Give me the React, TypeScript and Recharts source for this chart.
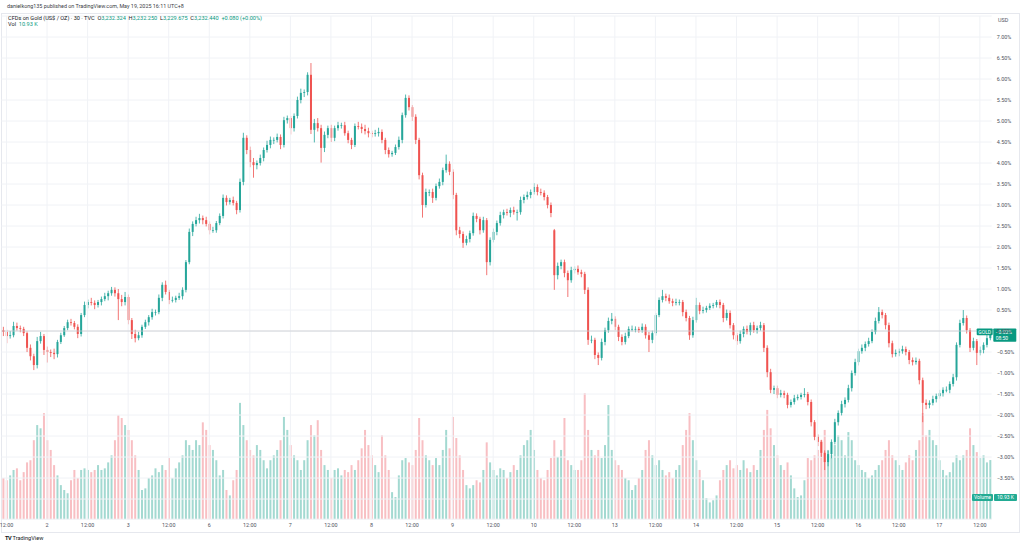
import React from "react";
import { Bar, CartesianGrid, Cell, ComposedChart, ReferenceLine, XAxis, YAxis } from "recharts";

// close %, upper wick, lower wick, volume (K), optional session open after a gap
type Candle = [number, number, number, number, number?];

interface Row {
  i: number;
  open: number;
  close: number;
  range: [number, number];
  vol: number;
  label: string;
}

const UP = "#26a69a";
const DOWN = "#ef5350";
const UP_VOL = "#a3d9d1";
const DOWN_VOL = "#f8bfc3";
const FONT = "Roboto, 'Liberation Sans', Arial, sans-serif";

const firstOpen = 0.02;

const may01: Candle[] = [
  [-0.02, 0.08, 0.1, 7.6], [-0.12, 0.05, 0.17, 7.2], [-0.1, 0.1, 0.06, 8.1], [0.12, 0.1, 0.05, 9.1],
  [0.07, 0.08, 0.06, 9.4], [0.05, 0.06, 0.08, 7.2], [-0.05, 0.05, 0.07, 8.7], [-0.4, 0.04, 0.1, 10.5],
  [-0.6, 0.08, 0.1, 10.9], [-0.81, 0.06, 0.12, 14.6], [-0.24, 0.1, 0.08, 17.4], [-0.12, 0.1, 0.06, 16.8],
  [-0.45, 0.05, 0.12, 19.6],
];

const may02: Candle[] = [
  [-0.5, 0.08, 0.25, 14.6], [-0.52, 0.06, 0.1, 12.8], [-0.55, 0.1, 0.12, 10.0], [-0.26, 0.05, 0.08, 8.1],
  [-0.1, 0.06, 0.05, 6.3], [0.07, 0.05, 0.04, 5.4], [0.21, 0.06, 0.05, 4.8], [0.19, 0.08, 0.06, 7.2],
  [0.1, 0.05, 0.06, 9.1], [-0.07, 0.06, 0.1, 7.6], [0.38, 0.05, 0.06, 9.1], [0.62, 0.08, 0.05, 9.4],
  [0.69, 0.06, 0.08, 9.1], [0.67, 0.1, 0.06, 8.7], [0.62, 0.06, 0.1, 9.1], [0.69, 0.05, 0.06, 10.0],
  [0.76, 0.06, 0.08, 9.1], [0.83, 0.08, 0.05, 9.4], [0.9, 0.06, 0.1, 10.5], [0.98, 0.07, 0.06, 11.8],
  [0.9, 0.06, 0.08, 14.6], [0.76, 0.1, 0.5, 19.2], [0.69, 0.1, 0.1, 18.7], [0.81, 0.12, 0.08, 17.4],
];

const may03: Candle[] = [
  [0.26, 0.06, 0.1, 16.5], [-0.07, 0.05, 0.12, 14.6], [-0.17, 0.1, 0.1, 11.8], [-0.1, 0.08, 0.05, 9.1],
  [0.1, 0.05, 0.06, 5.4], [0.21, 0.06, 0.05, 5.7], [0.33, 0.05, 0.08, 7.6], [0.45, 0.08, 0.06, 8.1],
  [0.45, 0.06, 0.08, 9.4], [0.79, 0.08, 0.05, 8.7], [1.1, 0.06, 0.08, 10.0], [0.93, 0.1, 0.06, 9.1],
  [0.74, 0.05, 0.1, 11.3], [0.74, 0.08, 0.06, 7.6], [0.79, 0.05, 0.06, 9.4], [0.83, 0.08, 0.05, 10.5],
  [0.98, 0.06, 0.08, 11.8], [1.64, 0.05, 0.06, 14.6], [2.36, 0.08, 0.05, 13.7], [2.55, 0.06, 0.1, 12.8],
  [2.64, 0.08, 0.06, 14.6], [2.69, 0.1, 0.08, 13.7], [2.64, 0.06, 0.1, 17.9], [2.55, 0.08, 0.06, 16.5],
];

const may06: Candle[] = [
  [2.4, 0.06, 0.1, 13.7], [2.4, 0.08, 0.06, 12.8], [2.57, 0.05, 0.06, 10.9], [2.74, 0.06, 0.05, 8.1],
  [3.17, 0.08, 0.06, 9.1], [3.07, 0.06, 0.08, 5.4], [3.12, 0.05, 0.06, 4.4], [3.05, 0.08, 0.06, 7.2],
  [2.88, 0.05, 0.1, 9.1], [3.55, 0.08, 0.06, 21.5], [4.6, 0.12, 0.08, 17.4], [4.31, 0.06, 0.1, 14.6],
  [4.02, 0.08, 0.12, 12.8], [3.95, 0.1, 0.3, 11.8], [4.0, 0.06, 0.1, 13.7], [4.12, 0.08, 0.06, 12.8],
  [4.31, 0.06, 0.08, 10.9], [4.43, 0.1, 0.06, 9.4], [4.55, 0.08, 0.08, 10.9], [4.55, 0.06, 0.1, 11.8],
  [4.62, 0.08, 0.06, 12.8], [4.43, 0.06, 0.1, 14.6], [5.02, 0.08, 0.06, 18.9], [5.07, 0.06, 0.08, 16.5],
];

const may07: Candle[] = [
  [4.83, 0.05, 0.15, 13.7], [5.12, 0.06, 0.08, 11.8], [5.5, 0.08, 0.06, 10.9], [5.67, 0.1, 0.08, 9.1],
  [5.69, 0.06, 0.1, 10.9], [6.1, 0.06, 0.08, 14.6], [4.79, 0.28, 0.1, 17.4], [4.95, 0.1, 0.3, 15.5],
  [4.83, 0.12, 0.08, 18.3], [4.36, 0.08, 0.35, 12.8], [4.67, 0.08, 0.1, 10.0], [4.83, 0.06, 0.08, 9.1],
  [4.6, 0.08, 0.1, 7.6], [4.83, 0.06, 0.08, 9.1], [4.9, 0.08, 0.06, 9.4], [4.9, 0.06, 0.08, 8.1],
  [4.71, 0.08, 0.06, 9.1], [4.55, 0.06, 0.08, 8.7], [4.43, 0.05, 0.1, 10.0], [4.88, 0.06, 0.05, 9.1],
  [4.86, 0.1, 0.06, 10.9], [4.81, 0.08, 0.1, 13.1], [4.76, 0.1, 0.08, 16.5], [4.71, 0.08, 0.1, 13.7],
];

const may08: Candle[] = [
  [4.69, 0.06, 0.08, 11.8], [4.71, 0.08, 0.06, 10.0], [4.74, 0.1, 0.08, 8.7], [4.55, 0.06, 0.08, 15.5],
  [4.31, 0.05, 0.1, 11.8], [4.21, 0.06, 0.08, 9.1], [4.24, 0.05, 0.06, 5.0], [4.38, 0.06, 0.05, 4.1],
  [4.55, 0.08, 0.06, 8.1], [5.14, 0.06, 0.08, 10.9], [5.55, 0.08, 0.06, 11.3], [5.33, 0.06, 0.08, 10.5],
  [5.1, 0.05, 0.1, 10.0], [4.55, 0.06, 0.1, 12.8], [3.71, 0.05, 0.1, 18.7], [3.0, 0.06, 0.3, 14.6],
  [3.31, 0.08, 0.06, 11.8], [3.31, 0.06, 0.1, 10.9], [3.17, 0.08, 0.12, 10.0], [3.45, 0.06, 0.06, 11.3],
  [3.55, 0.08, 0.06, 10.0], [3.83, 0.06, 0.08, 12.8], [3.98, 0.22, 0.06, 16.5], [3.79, 0.06, 0.08, 13.1],
];

const may09: Candle[] = [
  [3.24, 0.06, 0.1, 18.9], [2.4, 0.05, 0.12, 15.0], [2.31, 0.08, 0.1, 11.8], [2.1, 0.06, 0.12, 9.1],
  [2.19, 0.08, 0.06, 6.3], [2.33, 0.06, 0.08, 5.7], [2.74, 0.08, 0.06, 6.3], [2.67, 0.06, 0.08, 7.2],
  [2.4, 0.05, 0.1, 6.8], [2.64, 0.08, 0.06, 9.1], [1.64, 0.05, 0.31, 14.2], [2.17, 0.06, 0.08, 10.5],
  [2.36, 0.08, 0.06, 9.1], [2.57, 0.06, 0.08, 8.1], [2.76, 0.08, 0.06, 9.4], [2.83, 0.06, 0.08, 9.1],
  [2.81, 0.08, 0.06, 7.6], [2.88, 0.06, 0.1, 8.7], [2.83, 0.08, 0.06, 10.0], [2.83, 0.06, 0.2, 9.1],
  [3.12, 0.08, 0.06, 11.8], [3.19, 0.06, 0.08, 13.7], [3.24, 0.08, 0.06, 14.6], [3.31, 0.06, 0.08, 16.5],
];

const may10: Candle[] = [
  [3.43, 0.09, 0.06, 12.8], [3.31, 0.06, 0.08, 9.1], [3.29, 0.08, 0.06, 7.6], [3.19, 0.06, 0.08, 7.2],
  [3.0, 0.05, 0.08, 9.1], [2.81, 0.06, 0.1, 11.3], [1.33, 0.03, 0.35, 14.6, 2.4], [1.55, 0.08, 0.1, 11.5],
  [1.64, 0.06, 0.08, 12.8], [1.38, 0.06, 0.1, 18.7], [1.21, 0.06, 0.4, 10.9], [1.45, 0.08, 0.06, 10.0],
  [1.48, 0.06, 0.08, 9.1], [1.4, 0.08, 0.06, 9.1], [1.36, 0.06, 0.08, 10.9], [0.98, 0.05, 0.1, 23.3],
  [-0.21, 0.06, 0.12, 16.5], [-0.21, 0.1, 0.08, 12.8], [-0.57, 0.05, 0.1, 11.8], [-0.64, 0.06, 0.17, 12.8],
  [-0.26, 0.08, 0.06, 11.3], [0.02, 0.06, 0.08, 13.7], [0.24, 0.08, 0.06, 21.1], [0.29, 0.14, 0.08, 12.8],
];

const may13: Candle[] = [
  [0.1, 0.06, 0.08, 10.9], [-0.14, 0.05, 0.1, 10.0], [-0.26, 0.06, 0.08, 9.1], [-0.12, 0.08, 0.06, 7.6],
  [0.05, 0.06, 0.05, 7.2], [0.05, 0.08, 0.06, 5.4], [0.05, 0.06, 0.08, 6.3], [0.02, 0.05, 0.06, 7.6],
  [0.1, 0.08, 0.06, 9.1], [-0.1, 0.06, 0.08, 12.8], [-0.21, 0.08, 0.29, 14.6], [-0.05, 0.06, 0.08, 11.8],
  [0.38, 0.05, 0.06, 10.0], [0.74, 0.06, 0.05, 10.9], [0.83, 0.15, 0.06, 9.1], [0.79, 0.06, 0.08, 8.1],
  [0.71, 0.08, 0.06, 8.7], [0.67, 0.06, 0.08, 7.6], [0.69, 0.08, 0.06, 9.1], [0.69, 0.06, 0.08, 10.0],
  [0.45, 0.05, 0.1, 13.7], [0.31, 0.06, 0.08, 16.5], [-0.1, 0.05, 0.11, 19.6], [0.26, 0.08, 0.06, 14.6],
];

const may14: Candle[] = [
  [0.62, 0.17, 0.06, 10.9], [0.48, 0.06, 0.08, 9.1], [0.5, 0.08, 0.06, 7.2], [0.55, 0.05, 0.06, 3.9],
  [0.6, 0.06, 0.05, 3.1], [0.62, 0.05, 0.06, 3.5], [0.69, 0.05, 0.06, 4.4], [0.62, 0.06, 0.08, 7.2],
  [0.31, 0.05, 0.1, 9.1], [0.43, 0.08, 0.06, 10.0], [0.14, 0.06, 0.08, 10.9], [-0.1, 0.05, 0.1, 9.4],
  [-0.24, 0.06, 0.09, 10.0], [-0.07, 0.08, 0.06, 9.1], [0.05, 0.06, 0.08, 10.9], [-0.02, 0.08, 0.06, 9.4],
  [0.14, 0.06, 0.08, 8.7], [0.02, 0.08, 0.06, 10.0], [0.07, 0.06, 0.08, 9.1], [0.14, 0.08, 0.06, 12.8],
  [-0.4, 0.05, 0.1, 16.5], [-0.98, 0.06, 0.12, 20.2], [-1.4, 0.08, 0.08, 16.8], [-1.36, 0.06, 0.1, 13.7],
];

const may15: Candle[] = [
  [-1.52, 0.06, 0.08, 11.8], [-1.48, 0.08, 0.06, 10.0], [-1.52, 0.06, 0.08, 9.1], [-1.76, 0.05, 0.08, 10.5],
  [-1.69, 0.06, 0.06, 8.1], [-1.6, 0.08, 0.06, 5.7], [-1.57, 0.06, 0.05, 4.1], [-1.52, 0.05, 0.06, 4.4],
  [-1.5, 0.14, 0.06, 7.2], [-1.69, 0.05, 0.08, 11.3], [-2.17, 0.06, 0.1, 10.9], [-2.52, 0.05, 0.08, 11.8],
  [-2.64, 0.06, 0.1, 12.8], [-2.9, 0.05, 0.1, 14.6], [-3.12, 0.06, 0.19, 16.5], [-2.93, 0.08, 0.1, 12.8],
  [-2.64, 0.06, 0.1, 11.8], [-2.17, 0.08, 0.06, 13.7], [-1.95, 0.06, 0.08, 15.5], [-1.74, 0.08, 0.06, 14.6],
  [-1.64, 0.06, 0.08, 11.8], [-1.36, 0.08, 0.06, 16.1], [-1.0, 0.06, 0.08, 14.6], [-0.74, 0.08, 0.06, 10.9],
];

const may16: Candle[] = [
  [-0.48, 0.06, 0.08, 10.0], [-0.4, 0.08, 0.06, 9.1], [-0.31, 0.06, 0.08, 8.7], [-0.24, 0.08, 0.06, 7.6],
  [-0.02, 0.06, 0.05, 8.1], [0.24, 0.08, 0.06, 9.1], [0.45, 0.12, 0.06, 10.0], [0.38, 0.06, 0.08, 10.9],
  [0.14, 0.05, 0.1, 12.8], [-0.29, 0.06, 0.1, 14.6], [-0.55, 0.06, 0.08, 11.8], [-0.52, 0.08, 0.06, 10.9],
  [-0.48, 0.06, 0.08, 10.0], [-0.43, 0.08, 0.06, 9.1], [-0.5, 0.06, 0.08, 10.5], [-0.69, 0.05, 0.1, 11.8],
  [-0.74, 0.06, 0.08, 10.9], [-0.71, 0.08, 0.06, 12.8], [-1.17, 0.05, 0.1, 14.6], [-1.71, 0.06, 0.46, 19.6],
  [-1.76, 0.08, 0.1, 15.5], [-1.71, 0.06, 0.08, 16.5], [-1.62, 0.08, 0.06, 14.6], [-1.55, 0.06, 0.08, 13.7],
];

const may17: Candle[] = [
  [-1.48, 0.08, 0.06, 10.9], [-1.4, 0.06, 0.08, 9.1], [-1.4, 0.08, 0.06, 8.1], [-1.26, 0.06, 0.08, 8.7],
  [-1.1, 0.08, 0.06, 10.5], [-0.33, 0.06, 0.08, 11.8], [0.19, 0.08, 0.06, 10.9], [0.31, 0.19, 0.06, 11.8],
  [0.02, 0.06, 0.08, 12.8], [-0.4, 0.05, 0.1, 16.8], [-0.24, 0.08, 0.06, 13.7], [-0.52, 0.05, 0.29, 12.4],
  [-0.45, 0.08, 0.06, 11.3], [-0.33, 0.06, 0.08, 11.8], [-0.17, 0.08, 0.06, 10.5], [-0.02, 0.06, 0.05, 10.93],
];

const dayLabels = ["", "2", "3", "6", "7", "8", "9", "10", "13", "14", "15", "16", "17"];
const sessionStartHours = [11, 0, 0, 0, 0, 0, 0, 0, 0, 0, 0, 0, 0];
const sessionBars = [may01, may02, may03, may06, may07, may08, may09, may10, may13, may14, may15, may16, may17];

const priceTicks = [-4, -3.5, -3, -2.5, -2, -1.5, -1, -0.5, 0, 0.5, 1, 1.5, 2, 2.5, 3, 3.5, 4, 4.5, 5, 5.5, 6, 6.5, 7];

const rows: Row[] = [];
let prevClose = firstOpen;
sessionBars.forEach((bars, s) => {
  bars.forEach((b, j) => {
    const [close, wickUp, wickDown, vol, gapOpen] = b;
    const open = gapOpen ?? prevClose;
    const hour = sessionStartHours[s] + j;
    const label = hour === 0 ? dayLabels[s] : hour === 12 ? "12:00" : "";
    rows.push({
      i: rows.length,
      open,
      close,
      range: [Math.min(open, close) - wickDown, Math.max(open, close) + wickUp],
      vol,
      label,
    });
    prevClose = close;
  });
});

const tickIdx = rows.filter((r) => r.label !== "").map((r) => r.i);
const lastClose = rows[rows.length - 1].close;

const fmtPct = (v: number) => (v < 0 ? "\u2212" : "") + Math.abs(v).toFixed(2) + "%";

const Candle = (props: any) => {
  const { x, y, width, height, payload } = props;
  const [lo, hi] = payload.range;
  const top = Math.min(y, y + height);
  const h = Math.abs(height);
  const px = (v: number) => top + ((hi - v) / (hi - lo)) * h;
  const up = payload.close >= payload.open;
  const color = up ? UP : DOWN;
  const cx = x + width / 2;
  const bodyTop = px(Math.max(payload.open, payload.close));
  const bodyBot = px(Math.min(payload.open, payload.close));
  return (
    <g>
      <line x1={cx} x2={cx} y1={top} y2={top + h} stroke={color} strokeWidth={0.8} />
      <rect x={x} y={bodyTop} width={width} height={Math.max(bodyBot - bodyTop, 0.7)} fill={color} />
    </g>
  );
};

const TimeTick = (props: any) => {
  const { x, y, payload } = props;
  const label = rows[payload.value]?.label;
  if (!label) return null;
  return (
    <text x={x} y={y} dy={5} textAnchor="middle" fontSize={5.4} fill="#50535e" fontFamily={FONT}>
      {label}
    </text>
  );
};

const PriceTick = (props: any) => {
  const { x, y, payload } = props;
  return (
    <text x={x} y={y} dy={2} textAnchor="start" fontSize={5.4} fill="#50535e" fontFamily={FONT}>
      {fmtPct(payload.value)}
    </text>
  );
};

const PriceTag = (props: any) => {
  const { viewBox } = props;
  const right = viewBox.x + viewBox.width;
  const y = viewBox.y;
  return (
    <g fontFamily={FONT}>
      <rect x={right - 15} y={y - 3.3} width={16} height={6.6} rx={0.8} fill="#089981" />
      <text x={right - 7} y={y + 1.9} textAnchor="middle" fontSize={5} fill="#fff">GOLD</text>
      <rect x={right + 1.6} y={y - 3.3} width={23} height={13.3} rx={0.8} fill="#089981" />
      <text x={right + 4} y={y + 1.9} fontSize={5} fill="#fff">{fmtPct(lastClose)}</text>
      <text x={right + 4} y={y + 8} fontSize={5} fill="#fff">08:50</text>
    </g>
  );
};

export default function App() {
  const common = { width: 1024, height: 548, data: rows };
  return (
    <div style={{ position: "fixed", left: 0, top: 0, width: 1024, height: 548, background: "#fff", overflow: "hidden", fontFamily: FONT }}>
      <div style={{ position: "absolute", left: 1, top: 13, width: 1017, height: 518, border: "1px solid #e6e8ee" }} />
      <div style={{ position: "absolute", left: 0, top: 0 }}>
        <ComposedChart {...common} margin={{ top: 16, right: 32.3, bottom: 28.8, left: 1.4 }}>
          <XAxis dataKey="i" hide />
          <YAxis hide domain={[0, 93]} />
          <Bar dataKey="vol" barSize={2} isAnimationActive={false}>
            {rows.map((r) => (
              <Cell key={r.i} fill={r.close >= r.open ? UP_VOL : DOWN_VOL} />
            ))}
          </Bar>
        </ComposedChart>
      </div>
      <div style={{ position: "absolute", left: 0, top: 0 }}>
        <ComposedChart {...common} margin={{ top: 16, right: 2.3, bottom: 14.8, left: 1.4 }}>
          <CartesianGrid vertical={false} stroke="#f0f2f6" />
          {tickIdx.map((t) => (
            <ReferenceLine key={"g" + t} x={t} stroke="#f0f2f6" />
          ))}
          <XAxis dataKey="i" interval={0} tick={<TimeTick />} tickLine={false} axisLine={false} tickSize={0} tickMargin={3} height={14} />
          <YAxis
            orientation="right"
            domain={[-4.48, 7.5]}
            allowDataOverflow
            ticks={priceTicks}
            interval={0}
            tick={<PriceTick />}
            tickLine={false}
            axisLine={false}
            tickSize={0}
            tickMargin={5}
            width={30}
          />
          <ReferenceLine y={0} stroke="#c9cbd1" strokeWidth={0.8} />
          <Bar dataKey="range" barSize={2} shape={<Candle />} isAnimationActive={false} />
          <ReferenceLine y={lastClose} stroke="none" label={<PriceTag />} />
        </ComposedChart>
      </div>
      <div style={{ position: "absolute", left: 7, top: 3, fontSize: 5.4, color: "#3a3d45", whiteSpace: "nowrap" }}>
        danielkong135 published on TradingView.com, May 19, 2025 16:11 UTC+8
      </div>
      <div style={{ position: "absolute", left: 8, top: 15.3, fontSize: 5.6, color: "#131722", whiteSpace: "nowrap" }}>
        CFDs on Gold (US$ / OZ) · 30 · TVC&nbsp;&nbsp;O<span style={{ color: "#089981" }}>3,232.324</span>&nbsp;&nbsp;H
        <span style={{ color: "#089981" }}>3,232.250</span>&nbsp;&nbsp;L<span style={{ color: "#089981" }}>3,229.675</span>&nbsp;&nbsp;C
        <span style={{ color: "#089981" }}>3,232.440</span>&nbsp;&nbsp;<span style={{ color: "#089981" }}>+0.080 (+0.00%)</span>
      </div>
      <div style={{ position: "absolute", left: 8, top: 21, fontSize: 5.6, color: "#131722", whiteSpace: "nowrap" }}>
        Vol&nbsp;&nbsp;<span style={{ color: "#089981" }}>10.93 K</span>
      </div>
      <div style={{ position: "absolute", left: 998, top: 16.5, fontSize: 5.4, color: "#50535e" }}>USD</div>
      <div style={{ position: "absolute", left: 972, top: 494, width: 21, height: 7, background: "#22ab94", color: "#fff", fontSize: 5, lineHeight: "7px", textAlign: "center", borderRadius: 1 }}>
        Volume
      </div>
      <div style={{ position: "absolute", left: 994, top: 494, width: 23, height: 7, background: "#22ab94", color: "#fff", fontSize: 5, lineHeight: "7px", textAlign: "center", borderRadius: 1 }}>
        10.93 K
      </div>
      <div style={{ position: "absolute", left: 5, top: 535, fontSize: 5.6, color: "#131722", whiteSpace: "nowrap" }}>
        <b style={{ letterSpacing: -0.5 }}>TV</b>&nbsp;TradingView
      </div>
    </div>
  );
}
